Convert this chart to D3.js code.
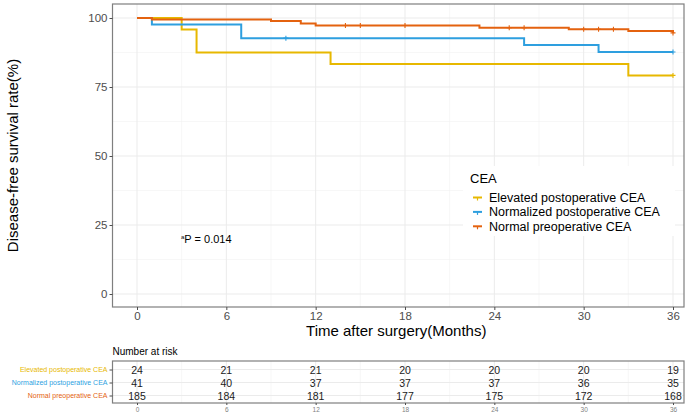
<!DOCTYPE html>
<html>
<head>
<meta charset="utf-8">
<script src="https://cdn.jsdelivr.net/npm/d3@7"></script>
<style>
  body { margin: 0; background: #fff; }
  svg { font-family: "Liberation Sans", Arial, sans-serif; display: block; }
</style>
</head>
<body>
<div id="chart"></div>
<script>
var groups = ['Elevated postoperative CEA', 'Normalized postoperative CEA', 'Normal preoperative CEA'];
var groupColors = ['#E7B800', '#2E9FDF', '#E4620F'];

// survival steps (time in months, survival %)
var elevatedTimes = [0, 3, 4, 13, 33, 36];
var elevatedSurv = [100, 95.8, 87.5, 83.3, 79.2, 79.2];
var elevatedCensor = [36];

var normalizedTimes = [0, 1, 7, 26, 31, 36];
var normalizedSurv = [100, 97.6, 92.7, 90.2, 87.7, 87.7];
var normalizedCensor = [10, 36];

var normalTimes = [0, 1, 9, 11, 12, 23, 29, 33, 36];
var normalSurv = [100, 99.5, 98.9, 98.0, 97.3, 96.5, 95.9, 95.3, 94.6];
var normalCensor = [14, 15, 18, 25, 26, 30, 31, 32, 36];

var monthTicks = [0, 6, 12, 18, 24, 30, 36];
var survTicks = [0, 25, 50, 75, 100];

var riskElevated = [24, 21, 21, 20, 20, 20, 19];
var riskNormalized = [41, 40, 37, 37, 37, 36, 35];
var riskNormal = [185, 184, 181, 177, 175, 172, 168];

var pText = 'P = 0.014';

var svg = d3.select('#chart').append('svg')
    .attr('width', 685)
    .attr('height', 415);

var panel = { left: 112.5, right: 684, top: 4, bottom: 307 };

var x = d3.scaleLinear().domain([0, 36]).range([137, 673]);
var y = d3.scaleLinear().domain([0, 100]).range([294, 18]);

var gridCol = '#ebebeb';

// minor grid
var minorX = d3.range(3, 36, 6);
var minorY = d3.range(12.5, 100, 25);
svg.selectAll('.minx').data(minorX).enter().append('line')
    .attr('x1', d => x(d)).attr('x2', d => x(d))
    .attr('y1', panel.top).attr('y2', panel.bottom)
    .attr('stroke', '#f2f2f2').attr('stroke-width', 0.6);
svg.selectAll('.miny').data(minorY).enter().append('line')
    .attr('x1', panel.left).attr('x2', panel.right)
    .attr('y1', d => y(d)).attr('y2', d => y(d))
    .attr('stroke', '#f2f2f2').attr('stroke-width', 0.6);

// major grid
svg.selectAll('.majx').data(monthTicks).enter().append('line')
    .attr('x1', d => x(d)).attr('x2', d => x(d))
    .attr('y1', panel.top).attr('y2', panel.bottom)
    .attr('stroke', gridCol).attr('stroke-width', 1);
svg.selectAll('.majy').data(survTicks).enter().append('line')
    .attr('x1', panel.left).attr('x2', panel.right)
    .attr('y1', d => y(d)).attr('y2', d => y(d))
    .attr('stroke', gridCol).attr('stroke-width', 1);

// curves
var series = [
    { times: elevatedTimes, surv: elevatedSurv, censor: elevatedCensor },
    { times: normalizedTimes, surv: normalizedSurv, censor: normalizedCensor },
    { times: normalTimes, surv: normalSurv, censor: normalCensor }
];

var line = d3.line()
    .x(d => x(d[0]))
    .y(d => y(d[1]))
    .curve(d3.curveStepAfter);

function survAt (s, t) {
    var v = s.surv[0];
    for (var i = 0; i < s.times.length; i++) {
        if (s.times[i] <= t) v = s.surv[i];
    }
    return v;
}

series.forEach(function (s, i) {
    var pts = s.times.map((t, j) => [t, s.surv[j]]);
    svg.append('path')
        .attr('d', line(pts))
        .attr('fill', 'none')
        .attr('stroke', groupColors[i])
        .attr('stroke-width', 2);
    s.censor.forEach(function (t) {
        var cx = x(t), cy = y(survAt(s, t));
        svg.append('path')
            .attr('d', 'M' + (cx - 2.5) + ',' + cy + 'H' + (cx + 2.5) + 'M' + cx + ',' + (cy - 2.5) + 'V' + (cy + 2.5))
            .attr('stroke', groupColors[i])
            .attr('stroke-width', 1.1);
    });
});

// panel border
svg.append('rect')
    .attr('x', panel.left).attr('y', panel.top)
    .attr('width', panel.right - panel.left).attr('height', panel.bottom - panel.top)
    .attr('fill', 'none').attr('stroke', '#7f7f7f').attr('stroke-width', 1.2);

// y axis
var yAxis = svg.append('g')
    .attr('transform', 'translate(' + panel.left + ',0)')
    .call(d3.axisLeft(y).tickValues(survTicks).tickSize(3).tickPadding(2));
yAxis.select('.domain').remove();
yAxis.selectAll('line').attr('stroke', '#4d4d4d');
yAxis.selectAll('text').attr('fill', '#4d4d4d').style('font-size', '11.5px')
    .style('font-family', '"Liberation Sans", Arial, sans-serif');

// x axis
var xAxis = svg.append('g')
    .attr('transform', 'translate(0,' + panel.bottom + ')')
    .call(d3.axisBottom(x).tickValues(monthTicks).tickSize(3).tickPadding(2));
xAxis.select('.domain').remove();
xAxis.selectAll('line').attr('stroke', '#4d4d4d');
xAxis.selectAll('text').attr('fill', '#4d4d4d').style('font-size', '11.5px')
    .style('font-family', '"Liberation Sans", Arial, sans-serif');

// titles
svg.append('text')
    .attr('x', (panel.left + panel.right) / 2 - 2)
    .attr('y', 336)
    .attr('text-anchor', 'middle')
    .style('font-size', '15px')
    .text('Time after surgery(Months)');

svg.append('text')
    .attr('transform', 'translate(18,' + ((panel.top + panel.bottom) / 2) + ') rotate(-90)')
    .attr('text-anchor', 'middle')
    .style('font-size', '15px')
    .text('Disease-free survival rate(%)');

// p value
var pt = svg.append('text')
    .attr('x', 181).attr('y', 243)
    .style('font-size', '11px');
pt.append('tspan').attr('dy', -4).style('font-size', '6px').text('a');
pt.append('tspan').attr('dy', 4).text(pText);

// legend
var lg = svg.append('g');
lg.append('rect')
    .attr('x', 463).attr('y', 166).attr('width', 212).attr('height', 70)
    .attr('fill', '#fff');
lg.append('text').attr('x', 470).attr('y', 183)
    .style('font-size', '13px').text('CEA');
groups.forEach(function (g, i) {
    var yy = 197.5 + i * 14.4;
    lg.append('line')
        .attr('x1', 473).attr('x2', 482).attr('y1', yy).attr('y2', yy)
        .attr('stroke', groupColors[i]).attr('stroke-width', 2);
    lg.append('line')
        .attr('x1', 477.5).attr('x2', 477.5).attr('y1', yy).attr('y2', yy + 3)
        .attr('stroke', groupColors[i]).attr('stroke-width', 1.2);
    lg.append('text').attr('x', 489).attr('y', yy + 4.5)
        .style('font-size', '12.5px').text(g);
});

// risk table
var risk = [riskElevated, riskNormalized, riskNormal];
var tbl = { top: 361, bottom: 403 };
var rowY = d3.scalePoint().domain(groups).range([369.5, 395.5]);

svg.append('text').attr('x', panel.left).attr('y', 355)
    .style('font-size', '10px').text('Number at risk');

svg.selectAll('.tminx').data(minorX).enter().append('line')
    .attr('x1', d => x(d)).attr('x2', d => x(d))
    .attr('y1', tbl.top).attr('y2', tbl.bottom)
    .attr('stroke', '#f2f2f2').attr('stroke-width', 0.6);
svg.selectAll('.tmajx').data(monthTicks).enter().append('line')
    .attr('x1', d => x(d)).attr('x2', d => x(d))
    .attr('y1', tbl.top).attr('y2', tbl.bottom)
    .attr('stroke', gridCol).attr('stroke-width', 1);
svg.selectAll('.tmajy').data(groups).enter().append('line')
    .attr('x1', panel.left).attr('x2', panel.right)
    .attr('y1', d => rowY(d)).attr('y2', d => rowY(d))
    .attr('stroke', gridCol).attr('stroke-width', 1);

risk.forEach(function (row, i) {
    svg.selectAll('.r' + i).data(row).enter().append('text')
        .attr('x', (d, j) => x(monthTicks[j]))
        .attr('y', rowY(groups[i]) + 4)
        .attr('text-anchor', 'middle')
        .style('font-size', '10.5px')
        .attr('fill', '#1a1a1a')
        .text(d => d);
});

svg.append('rect')
    .attr('x', panel.left).attr('y', tbl.top)
    .attr('width', panel.right - panel.left).attr('height', tbl.bottom - tbl.top)
    .attr('fill', 'none').attr('stroke', '#7f7f7f').attr('stroke-width', 1.2);

var tyAxis = svg.append('g')
    .attr('transform', 'translate(' + panel.left + ',0)')
    .call(d3.axisLeft(rowY).tickSize(3).tickPadding(2));
tyAxis.select('.domain').remove();
tyAxis.selectAll('line').attr('stroke', '#4d4d4d');
tyAxis.selectAll('text')
    .attr('fill', (d, i) => groupColors[i])
    .style('font-size', '7px')
    .style('font-family', '"Liberation Sans", Arial, sans-serif');

var txAxis = svg.append('g')
    .attr('transform', 'translate(0,' + tbl.bottom + ')')
    .call(d3.axisBottom(x).tickValues(monthTicks).tickSize(2).tickPadding(2));
txAxis.select('.domain').remove();
txAxis.selectAll('line').attr('stroke', '#4d4d4d');
txAxis.selectAll('text').attr('fill', '#7f7f7f').style('font-size', '6.5px')
    .style('font-family', '"Liberation Sans", Arial, sans-serif');
</script>
</body>
</html>
